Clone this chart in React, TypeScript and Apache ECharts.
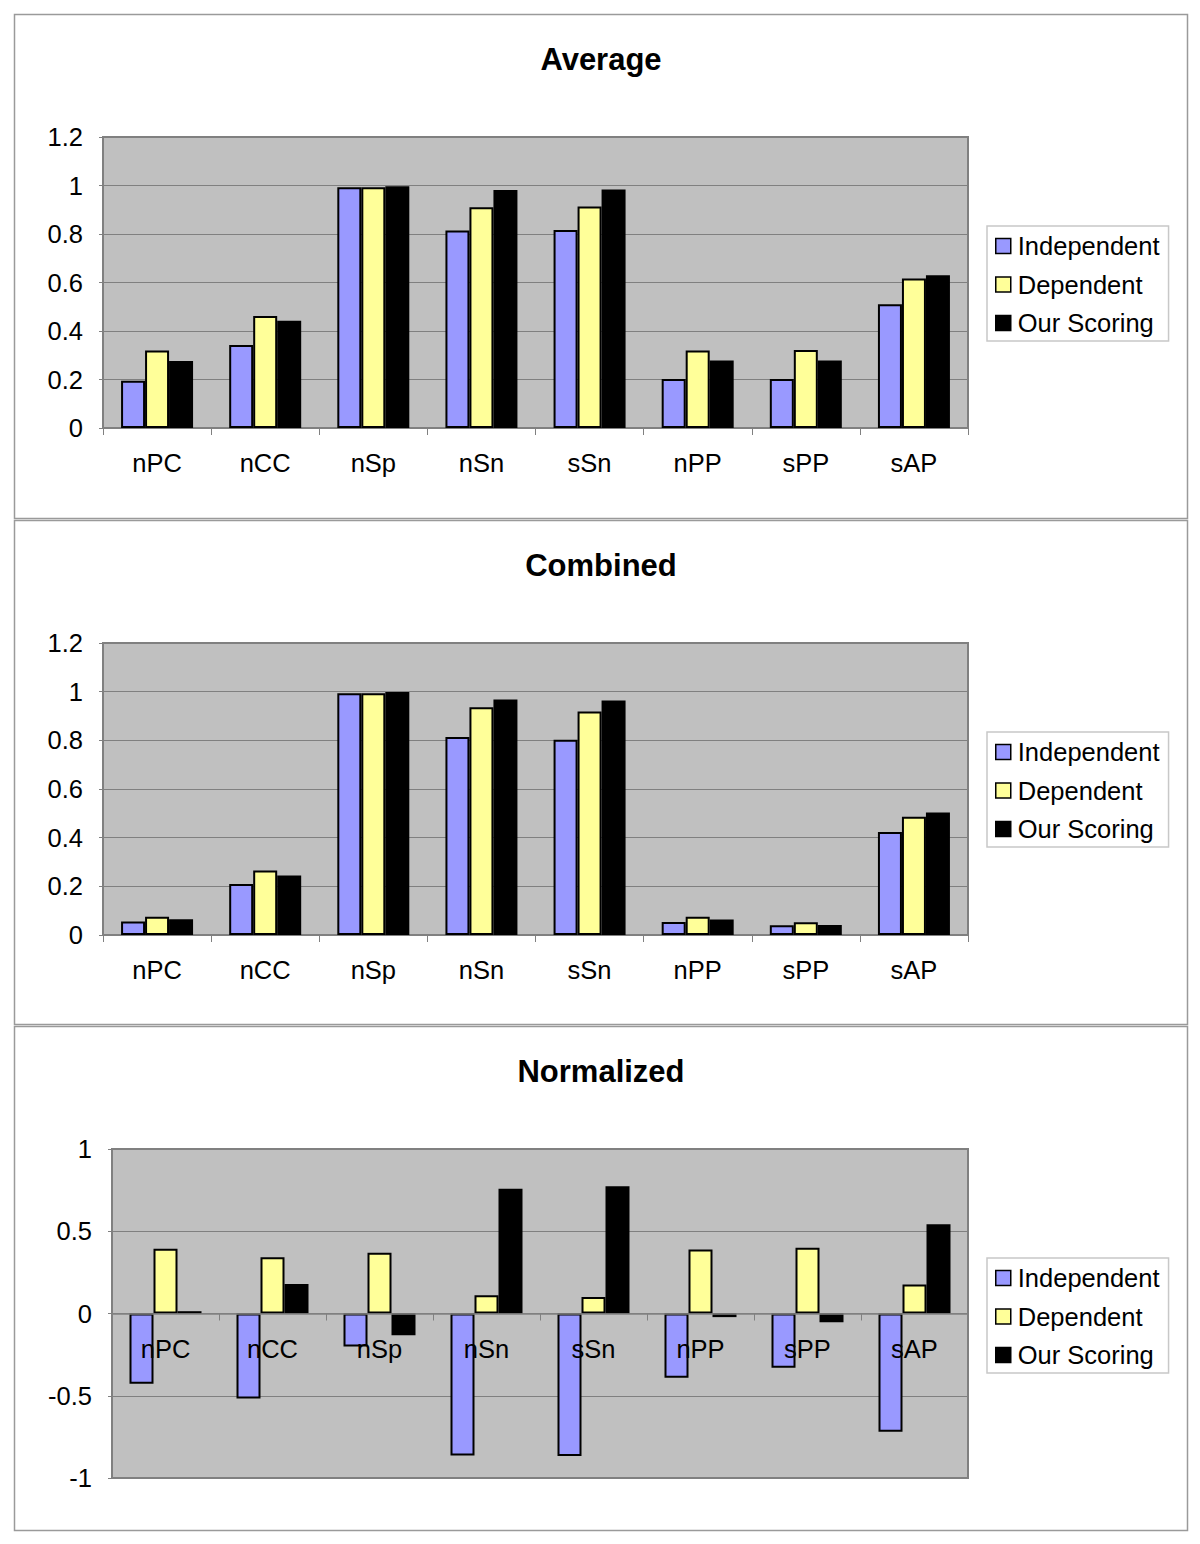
import React, { useEffect, useRef } from "react";
import * as echarts from "echarts";

const categories = ["nPC", "nCC", "nSp", "nSn", "sSn", "nPP", "sPP", "sAP"];
const seriesNames = ["Independent", "Dependent", "Our Scoring"];
const seriesColors = ["#9999FF", "#FFFF99", "#000000"];

const avgIndependent = [0.195, 0.342, 0.993, 0.814, 0.816, 0.202, 0.202, 0.51];
const avgDependent = [0.32, 0.462, 0.993, 0.91, 0.913, 0.32, 0.322, 0.617];
const avgOurScoring = [0.276, 0.442, 0.997, 0.981, 0.984, 0.278, 0.278, 0.63];

const combIndependent = [0.055, 0.21, 0.994, 0.814, 0.802, 0.053, 0.04, 0.423];
const combDependent = [0.075, 0.265, 0.994, 0.936, 0.919, 0.075, 0.052, 0.486];
const combOurScoring = [0.065, 0.245, 0.999, 0.968, 0.964, 0.064, 0.041, 0.503];

const normIndependent = [-0.427, -0.517, -0.2, -0.863, -0.867, -0.391, -0.33, -0.719];
const normDependent = [0.393, 0.342, 0.369, 0.111, 0.101, 0.389, 0.4, 0.176];
const normOurScoring = [0.014, 0.18, -0.132, 0.758, 0.774, -0.022, -0.053, 0.543];

const panelTitles = ["Average", "Combined", "Normalized"];

const FONT = "'Liberation Sans', Arial, Helvetica, sans-serif";
const W = 1200;
const H = 1544;

export default function App() {
  const ref = useRef<HTMLDivElement>(null);

  useEffect(() => {
    if (!ref.current) return;
    const chart = echarts.init(ref.current, null, { renderer: "svg" });

    const panels = [
      { data: [avgIndependent, avgDependent, avgOurScoring], min: 0, max: 1.2, interval: 0.2, left: 103, top: 137, right: 968, bottom: 428, panelTop: 14, panelBottom: 518, titleTop: 44, legendTop: 226 },
      { data: [combIndependent, combDependent, combOurScoring], min: 0, max: 1.2, interval: 0.2, left: 103, top: 643, right: 968, bottom: 935, panelTop: 520, panelBottom: 1024, titleTop: 550, legendTop: 732 },
      { data: [normIndependent, normDependent, normOurScoring], min: -1, max: 1, interval: 0.5, left: 112, top: 1149, right: 968, bottom: 1478, panelTop: 1026, panelBottom: 1530, titleTop: 1056, legendTop: 1258 },
    ];

    const grid: any[] = [];
    const xAxis: any[] = [];
    const yAxis: any[] = [];
    const series: any[] = [];
    const title: any[] = [];
    const legend: any[] = [];
    const graphic: any[] = [];

    panels.forEach((p, pi) => {
      const height = p.bottom - p.top;
      // place the category axis at the value axis' zero line
      const zeroOffset = p.min < 0 ? -((0 - p.min) / (p.max - p.min)) * height : 0;
      grid.push({
        left: p.left,
        top: p.top,
        width: p.right - p.left,
        height,
        show: true,
        backgroundColor: "#C0C0C0",
        borderColor: "#808080",
        borderWidth: 2,
      });
      xAxis.push({
        type: "category",
        gridIndex: pi,
        data: categories,
        position: "bottom",
        offset: zeroOffset,
        z: pi === 2 ? 10 : 0,
        axisLine: { show: true, onZero: false, lineStyle: { color: "#808080", width: 1.5 } },
        axisTick: { show: true, length: 7, lineStyle: { color: "#808080" } },
        axisLabel: { color: "#000", fontSize: 25.5, fontFamily: FONT, margin: 22 },
        splitLine: { show: false },
      });
      yAxis.push({
        type: "value",
        gridIndex: pi,
        min: p.min,
        max: p.max,
        interval: p.interval,
        axisLine: { show: true, onZero: false, lineStyle: { color: "#808080", width: 1.5 } },
        axisTick: { show: true, length: 4, lineStyle: { color: "#808080" } },
        axisLabel: { color: "#000", fontSize: 25.5, fontFamily: FONT, margin: 20 },
        splitLine: { show: true, lineStyle: { color: "#808080", width: 1 } },
      });
      seriesNames.forEach((name, si) => {
        series.push({
          type: "bar",
          name,
          xAxisIndex: pi,
          yAxisIndex: pi,
          data: p.data[si],
          barWidth: 24,
          barGap: "0%",
          itemStyle: { color: seriesColors[si], borderColor: "#000", borderWidth: 2 },
        });
      });
      title.push({
        text: panelTitles[pi],
        left: 601,
        textAlign: "center",
        top: p.titleTop,
        padding: 0,
        textStyle: { fontSize: 31, fontWeight: "bold", color: "#000", fontFamily: FONT },
      });
      legend.push({
        orient: "vertical",
        left: 987,
        top: p.legendTop,
        itemWidth: 15,
        itemHeight: 15,
        itemGap: 12.5,
        padding: [7, 9, 5, 8],
        borderColor: "#C8C8C8",
        borderWidth: 1.5,
        selectedMode: false,
        textStyle: { fontSize: 25.5, color: "#000", fontFamily: FONT, padding: [0, 0, 0, 2] },
        data: seriesNames.map((n, i) => ({
          name: n,
          icon: "rect",
          itemStyle: { color: seriesColors[i], borderColor: "#000", borderWidth: 1.5 },
        })),
      });
      graphic.push({
        type: "rect",
        silent: true,
        shape: { x: 14.5, y: p.panelTop + 0.5, width: 1173, height: p.panelBottom - p.panelTop },
        style: { fill: "none", stroke: "#9A9A9A", lineWidth: 1.5 },
        z: -10,
      });
    });

    chart.setOption({
      animation: false,
      backgroundColor: "#FFFFFF",
      textStyle: { fontFamily: FONT },
      title,
      legend,
      grid,
      xAxis,
      yAxis,
      series,
      graphic,
    });

    return () => chart.dispose();
  }, []);

  return (
    <div
      ref={ref}
      style={{ position: "absolute", left: 0, top: 0, width: W, height: H }}
    />
  );
}
